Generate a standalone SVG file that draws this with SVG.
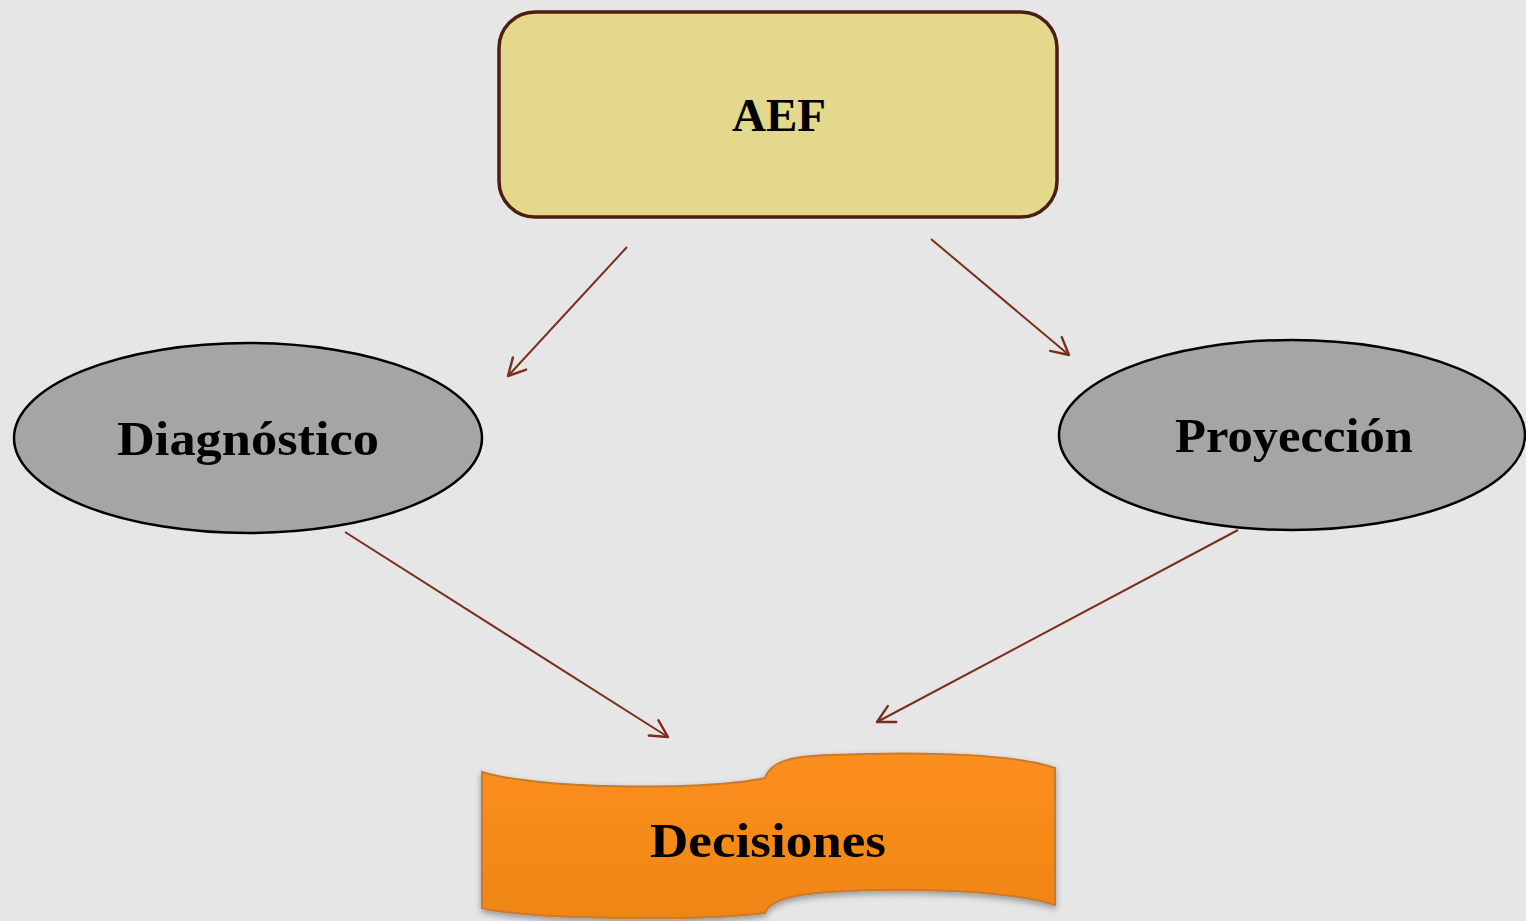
<svg xmlns="http://www.w3.org/2000/svg" width="1526" height="921" viewBox="0 0 1526 921">
  <style>
    .label { font-family: "Liberation Serif", "DejaVu Serif", serif; font-weight: bold; fill: #000; text-anchor: middle; }
    .conn { stroke: #7a2e1c; stroke-width: 2; fill: none; marker-end: url(#arrow); }
    .oval { fill: #a5a5a5; stroke: #000; stroke-width: 2.5; }
  </style>
  <defs>
    <marker id="arrow" viewBox="0 0 24 24" refX="21" refY="12" markerWidth="24" markerHeight="24" markerUnits="userSpaceOnUse" orient="auto">
      <path d="M4,3 L21,12 L4,21" fill="none" stroke="#7a2e1c" stroke-width="2.4" stroke-linecap="round" stroke-linejoin="round"/>
    </marker>
    <linearGradient id="orange" x1="0" y1="0" x2="0" y2="1">
      <stop offset="0" stop-color="#fc8e1c"/>
      <stop offset="1" stop-color="#ee8616"/>
    </linearGradient>
    <filter id="shadow" x="-10%" y="-10%" width="120%" height="130%">
      <feDropShadow dx="0" dy="3" stdDeviation="3" flood-color="#000" flood-opacity="0.35"/>
    </filter>
  </defs>

  <rect width="1526" height="921" fill="#e6e6e6"/>

  <g id="aef">
    <rect x="499" y="12" width="558" height="205" rx="36" ry="36" fill="#e3d88c" stroke="#4e1d12" stroke-width="3.5"/>
    <text class="label" x="779" y="131" font-size="47">AEF</text>
  </g>

  <g id="diagnostico">
    <ellipse class="oval" cx="248" cy="438" rx="234" ry="95"/>
    <text class="label" x="248" y="455" font-size="49" textLength="262" lengthAdjust="spacingAndGlyphs">Diagnóstico</text>
  </g>

  <g id="proyeccion">
    <ellipse class="oval" cx="1292" cy="435" rx="233" ry="95"/>
    <text class="label" x="1294" y="452" font-size="49" textLength="238" lengthAdjust="spacingAndGlyphs">Proyección</text>
  </g>

  <g id="decisiones">
    <path d="M482,772 C530,788 700,792 765,778 C770,762 790,756 830,755 C900,752 1010,752 1055,768 L1055,905 C1010,890 900,887 830,892 C790,895 770,900 765,913 C700,921 530,920 482,908 Z" fill="url(#orange)" stroke="#c97a2c" stroke-width="2" filter="url(#shadow)"/>
    <text class="label" x="768" y="857" font-size="49" textLength="236" lengthAdjust="spacingAndGlyphs">Decisiones</text>
  </g>

  <g id="connectors">
    <line class="conn" x1="627" y1="247" x2="508" y2="376"/>
    <line class="conn" x1="931" y1="239" x2="1069" y2="355"/>
    <line class="conn" x1="345" y1="532" x2="668" y2="737"/>
    <line class="conn" x1="1238" y1="530" x2="877" y2="722"/>
  </g>
</svg>
